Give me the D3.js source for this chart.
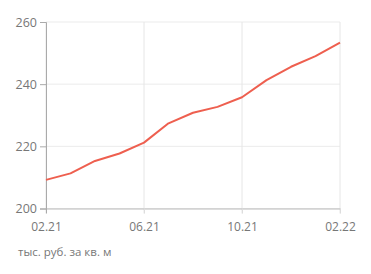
<!DOCTYPE html>
<html>
<head>
<meta charset="utf-8">
<script src="https://cdn.jsdelivr.net/npm/d3@7"></script>
<style>
  body { margin: 0; background: #fff; }
  text { font-family: "Open Sans", sans-serif; fill: #777; }
</style>
</head>
<body>
<div id="chart"></div>
<script>
// monthly price, thousand rub per sq m, 02.21 .. 02.22
const months = ["02.21","03.21","04.21","05.21","06.21","07.21","08.21","09.21","10.21","11.21","12.21","01.22","02.22"];
const prices = [209.2, 211.3, 215.3, 217.7, 221.2, 227.4, 230.8, 232.7, 235.8, 241.3, 245.6, 249.0, 253.4];
const xTickLabels = ["02.21","06.21","10.21","02.22"];
const yTicks = [200, 220, 240, 260];
const unitLabel = "тыс. руб. за кв. м";

const W = 371, H = 274;
const margin = {top: 22, right: 31, bottom: 65.5, left: 46};
const width = W - margin.left - margin.right,
      height = H - margin.top - margin.bottom;

const svg = d3.select("#chart").append("svg")
    .attr("width", W)
    .attr("height", H)
  .append("g")
    .attr("transform", "translate(" + margin.left + "," + margin.top + ")");

const x = d3.scalePoint().domain(months).range([0, width]);
const y = d3.scaleLinear().domain([200, 260]).range([height, 0]);

// horizontal grid
svg.append("g")
  .selectAll("line")
  .data(yTicks)
  .join("line")
    .attr("x1", 0).attr("x2", width)
    .attr("y1", d => y(d)).attr("y2", d => y(d))
    .attr("stroke", "#ebebeb").attr("stroke-width", 1);

// vertical grid
svg.append("g")
  .selectAll("line")
  .data(xTickLabels)
  .join("line")
    .attr("x1", d => x(d)).attr("x2", d => x(d))
    .attr("y1", 0).attr("y2", height + 5)
    .attr("stroke", "#e6e6e6").attr("stroke-width", 1);

// y axis
const yAxis = svg.append("g")
    .call(d3.axisLeft(y).tickValues(yTicks).tickSize(6).tickPadding(3));
yAxis.select(".domain").attr("stroke", "#aaa");
yAxis.selectAll(".tick line").attr("stroke", "#aaa");
yAxis.selectAll("text").style("font-size", "12.5px").attr("fill", "#777");

// x axis
const xAxis = svg.append("g")
    .attr("transform", "translate(0," + height + ")")
    .call(d3.axisBottom(x).tickValues(xTickLabels).tickSize(5).tickPadding(9).tickSizeOuter(0));
xAxis.select(".domain").attr("stroke", "#bbb");
xAxis.selectAll(".tick line").attr("stroke", "#ddd");
xAxis.selectAll("text").style("font-size", "12px").attr("fill", "#777");
xAxis.select(".tick line").attr("stroke", "#aaa");

// price line
svg.append("path")
  .datum(prices)
    .attr("fill", "none")
    .attr("stroke", "#ee5f4f")
    .attr("stroke-width", 2)
    .attr("stroke-linejoin", "round")
    .attr("d", d3.line()
      .x((d, i) => x(months[i]))
      .y(d => y(d)));

// unit caption
d3.select("svg").append("text")
    .attr("x", 18)
    .attr("y", 256)
    .style("font-size", "11.5px")
    .attr("fill", "#777")
    .text(unitLabel);
</script>
</body>
</html>
